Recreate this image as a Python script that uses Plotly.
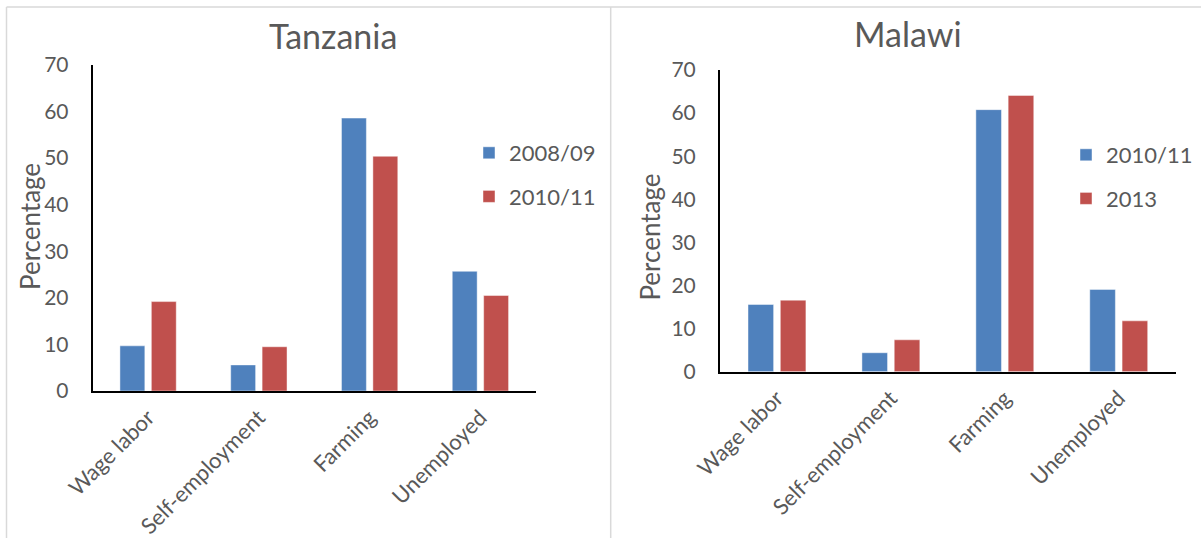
import plotly.graph_objects as go

categories = ["Wage labor", "Self-employment", "Farming", "Unemployed"]

tz_title = "Tanzania"
tz_series_names = ["2008/09", "2010/11"]
tz_2008 = [9.7, 5.6, 58.6, 25.7]
tz_2010 = [19.2, 9.5, 50.4, 20.5]

mw_title = "Malawi"
mw_series_names = ["2010/11", "2013"]
mw_2010 = [15.6, 4.4, 60.8, 19.1]
mw_2013 = [16.6, 7.4, 64.1, 11.8]

y_title = "Percentage"
y_ticks = [0, 10, 20, 30, 40, 50, 60, 70]

BLUE = "#4f81bd"
RED = "#c0504d"
TXT = "#595959"
FONT = "Lato"
W, H = 1201, 538

fig = go.Figure()

def bar(name, vals, color, xa, ya, legend, group):
    return go.Bar(
        x=categories, y=vals, name=name, xaxis=xa, yaxis=ya, legend=legend,
        legendgroup=group,
        marker=dict(color=color, line=dict(color="rgba(255,255,255,0.45)", width=1)),
    )

fig.add_trace(bar(tz_series_names[0], tz_2008, BLUE, "x", "y", "legend", "a"))
fig.add_trace(bar(tz_series_names[1], tz_2010, RED, "x", "y", "legend", "b"))
fig.add_trace(bar(mw_series_names[0], mw_2010, BLUE, "x2", "y2", "legend2", "c"))
fig.add_trace(bar(mw_series_names[1], mw_2013, RED, "x2", "y2", "legend2", "d"))

def xaxis(domain, anchor):
    return dict(domain=domain, anchor=anchor, showline=True, linecolor="#000000", linewidth=2,
                ticks="", tickangle=-45, tickfont=dict(family=FONT, size=22, color=TXT),
                ticklabelstandoff=3, showgrid=False, zeroline=False, fixedrange=True,
                automargin=False)

def yaxis(domain, anchor):
    return dict(domain=domain, anchor=anchor, range=[0, 70], tickvals=y_ticks,
                showline=True, linecolor="#000000", linewidth=2, ticks="",
                tickfont=dict(family=FONT, size=21, color=TXT), ticklabelstandoff=18,
                showgrid=False, zeroline=False, fixedrange=True, automargin=False)

legend_style = dict(font=dict(family=FONT, size=22, color=TXT), bgcolor="rgba(0,0,0,0)",
                    borderwidth=0, tracegroupgap=12, traceorder="grouped",
                    xanchor="left", yanchor="top")

fig.update_layout(
    template="none",
    width=W, height=H,
    margin=dict(l=0, r=0, t=0, b=0, pad=0, autoexpand=False),
    paper_bgcolor="white", plot_bgcolor="white",
    barmode="group", bargap=0.433, bargroupgap=0.207,
    font=dict(family=FONT, color=TXT),
    xaxis=xaxis([92.7 / W, 535.8 / W], "y"),
    yaxis=yaxis([1 - 391 / H, 1 - 65 / H], "x"),
    xaxis2=xaxis([720 / W, 1175.7 / W], "y2"),
    yaxis2=yaxis([1 - 371.7 / H, 1 - 70 / H], "x2"),
    legend=dict(x=(509 - 40) / W, y=1 - 132 / H, **legend_style),
    legend2=dict(x=(1106 - 40) / W, y=1 - 134 / H, **legend_style),
    showlegend=True,
)

# panel borders (chart-area frames)
border = dict(color="#d9d9d9", width=1.5)
fig.add_shape(type="line", xref="paper", yref="paper", x0=6.5 / W, x1=1, y0=1 - 7 / H, y1=1 - 7 / H, line=border)
fig.add_shape(type="line", xref="paper", yref="paper", x0=6.5 / W, x1=6.5 / W, y0=0, y1=1 - 7 / H, line=border)
fig.add_shape(type="line", xref="paper", yref="paper", x0=610.7 / W, x1=610.7 / W, y0=0, y1=1 - 7 / H, line=border)

# titles
fig.add_annotation(text=tz_title, xref="paper", yref="paper", x=333 / W, y=1 - 35 / H,
                   showarrow=False, font=dict(family=FONT, size=34, color=TXT),
                   xanchor="center", yanchor="middle")
fig.add_annotation(text=mw_title, xref="paper", yref="paper", x=907.6 / W, y=1 - 34 / H,
                   showarrow=False, font=dict(family=FONT, size=34, color=TXT),
                   xanchor="center", yanchor="middle")

# y-axis titles
fig.add_annotation(text=y_title, xref="paper", yref="paper", x=30 / W, y=1 - 227 / H,
                   showarrow=False, textangle=-90, font=dict(family=FONT, size=26, color=TXT),
                   xanchor="center", yanchor="middle")
fig.add_annotation(text=y_title, xref="paper", yref="paper", x=650 / W, y=1 - 237.6 / H,
                   showarrow=False, textangle=-90, font=dict(family=FONT, size=26, color=TXT),
                   xanchor="center", yanchor="middle")

fig.write_html("out.html", config=dict(displayModeBar=False))
